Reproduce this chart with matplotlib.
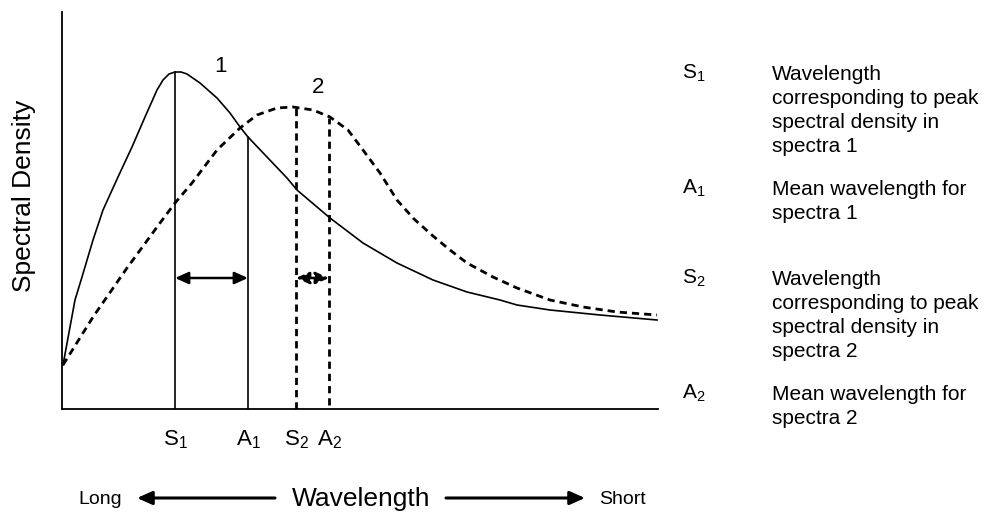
import matplotlib.pyplot as plt

plt.rcParams['font.family'] = 'Liberation Sans'
plt.rcParams['mathtext.fontset'] = 'custom'
plt.rcParams['mathtext.rm'] = 'Liberation Sans'
plt.rcParams['mathtext.it'] = 'Liberation Sans'
plt.rcParams['mathtext.default'] = 'regular'

# --------------- data (arbitrary units) ---------------
spec1_x = [1, 8, 13, 20, 31, 41, 56, 70, 83, 95, 101, 107, 113, 119, 125, 138, 155,
           168, 178, 186, 205, 225, 235, 268, 301, 335, 371, 405, 438, 455, 488, 538, 595]
spec1_y = [44, 82, 109, 132, 169, 199, 232, 262, 292, 319, 329, 335, 337, 337, 335, 326, 311,
           296, 282, 272, 252, 231, 219, 191, 166, 146, 129, 117, 109, 104, 99, 94, 89]

spec2_x = [1, 31, 65, 98, 113, 130, 155, 178, 195, 215, 231, 251, 268, 286, 301, 318,
           335, 352, 371, 388, 405, 431, 455, 488, 521, 555, 595]
spec2_y = [44, 92, 141, 186, 206, 226, 259, 281, 294, 301, 302, 299, 292, 279, 259, 236,
           209, 190, 173, 159, 146, 132, 121, 109, 102, 97, 94]

marks = ['S$_1$', 'A$_1$', 'S$_2$', 'A$_2$']
mark_x = [113, 186, 234, 267]
mark_top = [337, 272, 302, 291]
mark_bottom = [0, 0, 0, 4]

legend_keys = ['S$_1$', 'A$_1$', 'S$_2$', 'A$_2$']
legend_text = ['Wavelength\ncorresponding to peak\nspectral density in\nspectra 1',
               'Mean wavelength for\nspectra 1',
               'Wavelength\ncorresponding to peak\nspectral density in\nspectra 2',
               'Mean wavelength for\nspectra 2']
legend_y = [336, 221, 131, 16]

# --------------- figure ---------------
W, H = 992, 516
fig = plt.figure(figsize=(W / 100, H / 100), dpi=100)
ax = fig.add_axes([62 / W, (H - 409) / H, 596 / W, 397 / H])
ax.set_xlim(0, 596)
ax.set_ylim(0, 397)

for s in ['top', 'right']:
    ax.spines[s].set_visible(False)
for s in ['left', 'bottom']:
    ax.spines[s].set_linewidth(1.3)
ax.tick_params(axis='y', left=False, labelleft=False)
ax.tick_params(axis='x', length=0, pad=14, labelsize=16)
ax.set_xticks(mark_x)
ax.set_xticklabels(marks)
ax.text(-38, 213, 'Spectral Density', fontsize=19, rotation=90,
        ha='center', va='center', clip_on=False)

ax.plot(spec1_x, spec1_y, color='black', lw=1.2)
ax.plot(spec2_x, spec2_y, color='black', lw=2, dashes=(2.6, 1.8))

styles = ['-', '-', '--', '--']
for x, y0, y1, st in zip(mark_x, mark_bottom, mark_top, styles):
    if st == '-':
        ax.plot([x, x], [y0, y1], color='black', lw=1.2)
    else:
        ax.plot([x, x], [y0, y1], color='black', lw=2, dashes=(2.6, 1.8))

# difference arrows
ax.annotate('', xy=(mark_x[1], 131), xytext=(mark_x[0], 131),
            arrowprops=dict(arrowstyle='<|-|>,head_length=0.8,head_width=0.36',
                            color='black', lw=1.8, shrinkA=0, shrinkB=0, mutation_scale=10))
ax.annotate('', xy=(mark_x[3], 131), xytext=(mark_x[2], 131),
            arrowprops=dict(arrowstyle='<|-|>,head_length=0.8,head_width=0.36',
                            color='black', lw=1.8, ls=(0, (2.5, 2)), shrinkA=0, shrinkB=0,
                            mutation_scale=10))

ax.text(158, 342, '1', fontsize=16, ha='center', va='center')
ax.text(256, 321, '2', fontsize=16, ha='center', va='center')

# wavelength direction
ax.text(38, -91, 'Long', fontsize=14, ha='center', va='center')
ax.text(561, -91, 'Short', fontsize=14, ha='center', va='center')
ax.text(299, -90, 'Wavelength', fontsize=19, ha='center', va='center')
ax.annotate('', xy=(75, -89), xytext=(213, -89), annotation_clip=False,
            arrowprops=dict(arrowstyle='-|>,head_length=0.9,head_width=0.4',
                            color='black', lw=2.2, shrinkA=0, shrinkB=0, mutation_scale=10))
ax.annotate('', xy=(523, -89), xytext=(384, -89), annotation_clip=False,
            arrowprops=dict(arrowstyle='-|>,head_length=0.9,head_width=0.4',
                            color='black', lw=2.2, shrinkA=0, shrinkB=0, mutation_scale=10))

# key on the right
for key, txt, y in zip(legend_keys, legend_text, legend_y):
    ax.text(620, y, key, fontsize=15, ha='left', va='center', clip_on=False)
    ax.text(710, y + 8, txt, fontsize=15, ha='left', va='top', linespacing=1.34,
            clip_on=False)

fig.savefig('out.png', dpi=100)
